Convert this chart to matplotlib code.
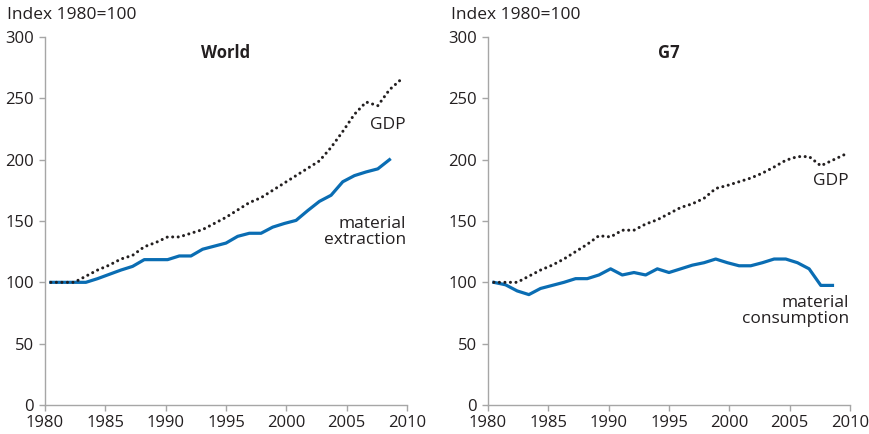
import numpy as np
import matplotlib
matplotlib.use('Agg')
import matplotlib.pyplot as plt

plt.rcParams['font.family'] = ['Open Sans', 'DejaVu Sans']

# World, index 1980=100
world_gdp = [100, 100, 100, 105, 110, 114, 119, 122, 129, 132.5, 137, 137, 140, 143, 148, 153,
             159, 165, 169, 175, 181, 187, 193, 199, 210, 223, 237, 247, 244, 257, 265.5]
world_material = [100, 100, 100, 100, 103, 106.5, 110, 113, 118.5, 118.5, 118.5, 121.5, 121.5, 127, 129.5,
                  132, 137.5, 140, 140, 145, 148, 150.5, 158.5, 166, 171, 182, 187, 190, 192.5, 200]

# G7, index 1980=100
g7_gdp = [100, 100, 100, 105, 110, 114, 119, 125, 131, 138, 137, 142.5, 142.5, 147.5, 151, 156,
          161, 164, 168.5, 176.5, 179, 182, 185, 189, 194, 199.5, 202.5, 202.5, 195, 199.5, 204]
g7_material = [100, 98, 93, 90, 95, 97.5, 100, 103, 103, 106, 111, 106, 108, 106, 111, 108,
               111, 114, 116, 119, 116, 113.5, 113.5, 116, 119, 119, 116, 111, 97.5, 97.5]

first_year = 1980
tick_years = [1980, 1985, 1990, 1995, 2000, 2005, 2010]
y_ticks = [0, 50, 100, 150, 200, 250, 300]

blue = '#0a6db3'
dark = '#231f20'
grey = '#a6a6a6'
n_cat = 31  # 1980..2010 as categories


def panel(ax, title, gdp, material, mat_label, gdp_y, mat_y):
    ax.plot(np.arange(len(material)) + 0.5, material, color=blue, lw=2.3, solid_joinstyle='round')
    ax.plot(np.arange(len(gdp)) + 0.5, gdp, color=dark, lw=2.2, linestyle=(0, (0.01, 1.8)),
            dash_capstyle='round')
    ax.set_xlim(0, n_cat)
    ax.set_ylim(0, 300)
    ax.set_xticks(np.linspace(0, n_cat, len(tick_years)))
    ax.set_xticklabels([str(y) for y in tick_years])
    ax.set_yticks(y_ticks)
    for s in ['top', 'right']:
        ax.spines[s].set_visible(False)
    for s in ['left', 'bottom']:
        ax.spines[s].set_color(grey)
        ax.spines[s].set_linewidth(1.0)
    ax.tick_params(colors=grey, labelcolor=dark, labelsize=12, length=4, width=1)
    ax.tick_params(axis='y', pad=4)
    ax.tick_params(axis='x', pad=3)
    ax.text(0.5, 0.98, title, transform=ax.transAxes, ha='center', va='top',
            fontsize=12, fontweight='bold', color=dark)
    ax.text(n_cat - 0.1, gdp_y, 'GDP', ha='right', va='center', fontsize=12.5, color=dark)
    ax.text(n_cat - 0.1, mat_y, mat_label, ha='right', va='center', fontsize=12.5, color=dark,
            linespacing=1.0)


fig = plt.figure(figsize=(8.7, 4.34), dpi=100)
ax1 = fig.add_axes([45 / 870, 29 / 434, 362 / 870, 368 / 434])
ax2 = fig.add_axes([488 / 870, 29 / 434, 362 / 870, 368 / 434])

panel(ax1, 'World', world_gdp, world_material, 'material\nextraction', 228, 141)
panel(ax2, 'G7', g7_gdp, g7_material, 'material\nconsumption', 182.5, 76.5)

fig.text(7 / 870, 1 - 15 / 434, 'Index 1980=100', ha='left', va='center', fontsize=12.5, color=dark)
fig.text(451 / 870, 1 - 15 / 434, 'Index 1980=100', ha='left', va='center', fontsize=12.5, color=dark)

fig.savefig('out.png', dpi=100)
